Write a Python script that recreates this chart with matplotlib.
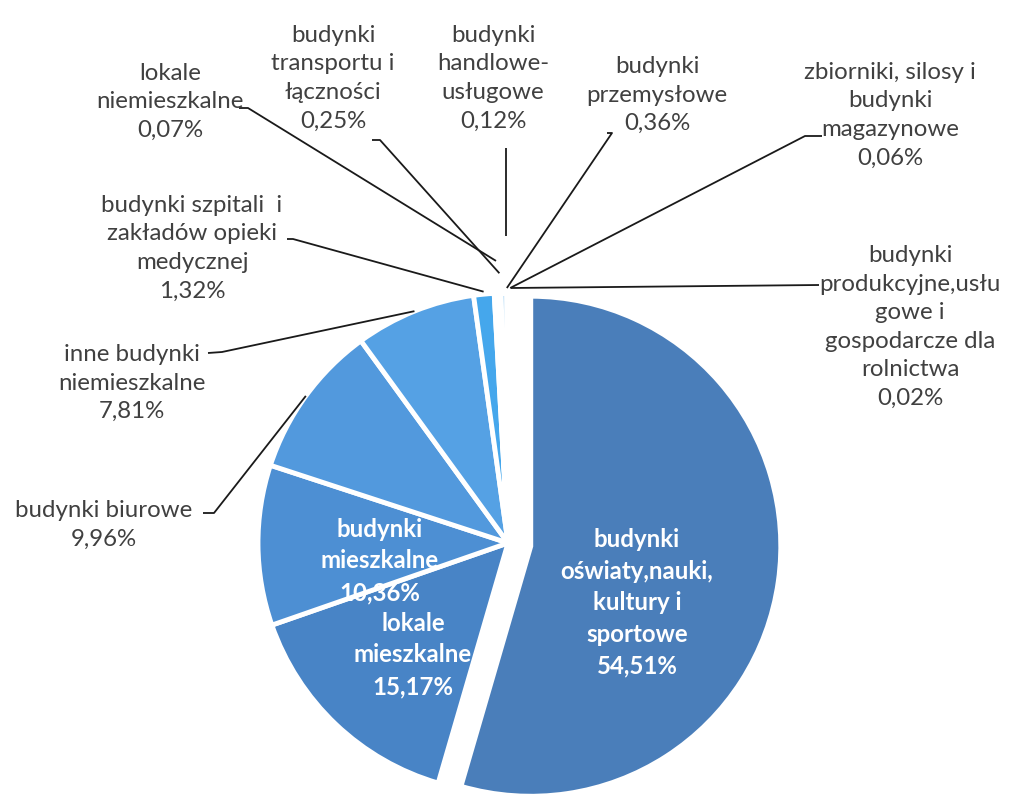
import numpy as np
import matplotlib
matplotlib.use("Agg")
import matplotlib.pyplot as plt

W, H = 1031, 798

# ---- data ----
categories = [
    "budynki\noświaty,nauki,\nkultury i\nsportowe",
    "lokale\nmieszkalne",
    "budynki\nmieszkalne",
    "budynki biurowe",
    "inne budynki\nniemieszkalne",
    "budynki szpitali  i\nzakładów opieki\nmedycznej",
    "lokale\nniemieszkalne",
    "budynki\ntransportu i\nłączności",
    "budynki\nhandlowe-\nusługowe",
    "budynki\nprzemysłowe",
    "zbiorniki, silosy i\nbudynki\nmagazynowe",
    "budynki\nprodukcyjne,usłu\ngowe i\ngospodarcze dla\nrolnictwa",
]
values = [54.51, 15.17, 10.36, 9.96, 7.81, 1.32, 0.07, 0.25, 0.12, 0.36, 0.06, 0.02]
value_labels = ["54,51%", "15,17%", "10,36%", "9,96%", "7,81%", "1,32%",
                "0,07%", "0,25%", "0,12%", "0,36%", "0,06%", "0,02%"]

colors = ["#4a7eba", "#4884c6", "#4d8fd3", "#5299dd", "#55a1e4", "#45a7ec",
          "#7cc0f0", "#7cc0f0", "#7cc0f0", "#7cc0f0", "#7cc0f0", "#7cc0f0"]

plt.rcParams['font.family'] = ['Lato', 'DejaVu Sans']

fig = plt.figure(figsize=(W / 100, H / 100), dpi=100)
ax = fig.add_axes([0, 0, 1, 1])
ax.axis('off')

def P(x, y):
    return x, H - y

cx, cy = P(508, 543)
R = 250
explode = [23.0] + [0.0] * (len(values) - 1)   # offset in data units
wedges, _ = ax.pie(values, colors=colors, startangle=90, counterclock=False,
                   center=(cx, cy), radius=R, explode=explode,
                   wedgeprops=dict(edgecolor='white', linewidth=3.5),
                   normalize=True)
ax.set_xlim(0, W)
ax.set_ylim(0, H)
ax.set_aspect('equal')

FS = 17.3
LS = 1.45

# ---- inside labels ----
inside = {0: (637, 603), 1: (413, 655), 2: (380, 561)}
for i, (x, y) in inside.items():
    ax.text(*P(x, y), categories[i] + "\n" + value_labels[i], ha='center', va='center',
            color='white', fontsize=FS, fontweight='bold', linespacing=LS, zorder=5)

# ---- outside labels: (text center), elbow start, elbow end, radial factor ----
outside = {
    3: ((104, 525), (203, 513), (214, 513), 1.0),
    4: ((132, 383), (208, 353), (222, 352), 1.0),
    5: ((192, 248), (287, 239), (293, 239), 1.01),
    6: ((170, 102), (239, 108), (248, 108), 1.13),
    7: ((333, 78), (372, 140), (380, 140), 1.08),
    8: ((493, 78), (506, 148), (506, 148), 1.23),
    9: ((657, 95), (607, 133), (612, 133), 1.02),
    10: ((890, 115), (822, 136), (805, 136), 1.02),
    11: ((910, 327), (819, 285), (819, 285), 1.02),
}
for i, ((tx, ty), e0, e1, rf) in outside.items():
    ax.text(*P(tx, ty), categories[i] + "\n" + value_labels[i], ha='center', va='center',
            color='#404040', fontsize=FS, linespacing=LS, zorder=5)
    w = wedges[i]
    ang = np.deg2rad((w.theta1 + w.theta2) / 2)
    wx = w.center[0] + w.r * rf * np.cos(ang) + 3
    wy = w.center[1] + w.r * rf * np.sin(ang)
    if i == 8:
        wx = e1[0]
    if i in (3, 4, 5):
        wx -= 3
    xs = [P(*e0)[0], P(*e1)[0], wx]
    ys = [P(*e0)[1], P(*e1)[1], wy]
    ax.plot(xs, ys, color='#1a1a1a', linewidth=1.3, zorder=4, solid_capstyle='butt')

fig.savefig("out.png", dpi=100, facecolor='white')
